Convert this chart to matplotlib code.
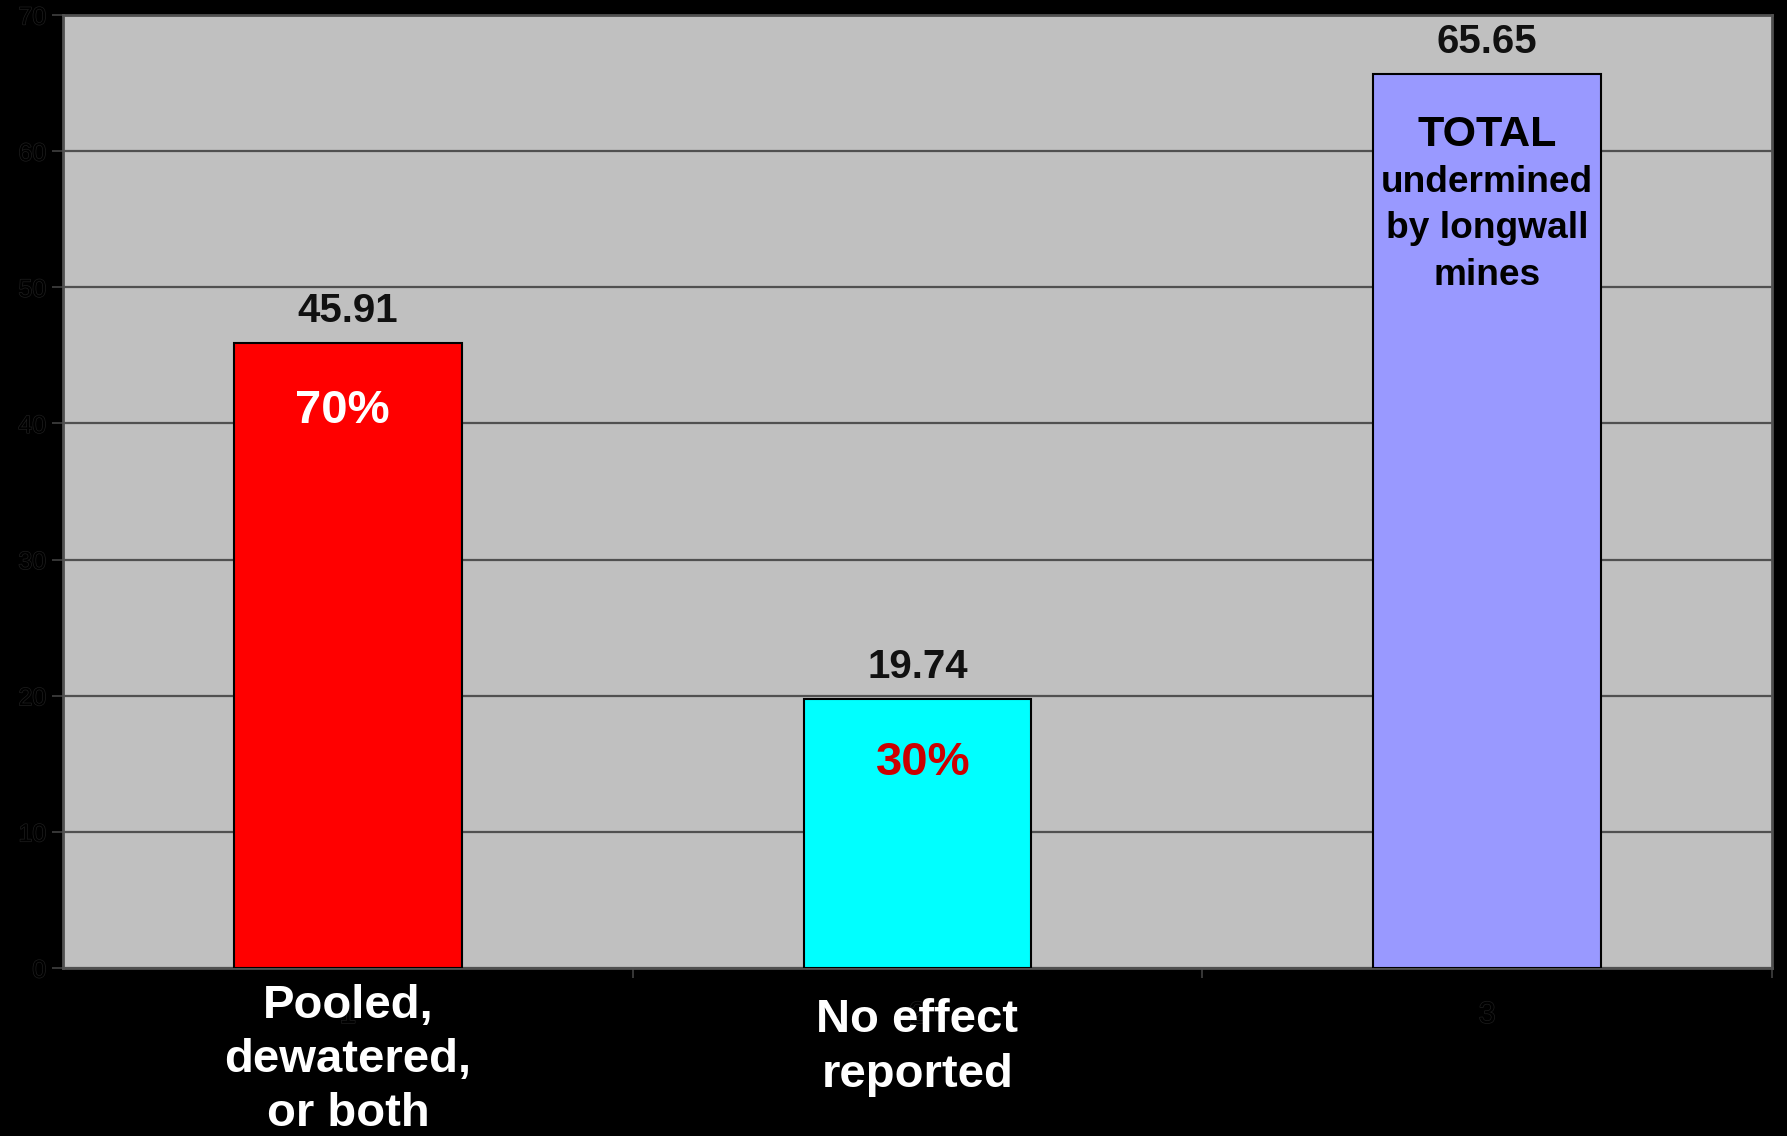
import matplotlib
matplotlib.use("Agg")
import matplotlib.pyplot as plt
import matplotlib.patheffects as pe

# Data
positions = [1, 2, 3]
values = [45.91, 19.74, 65.65]
bar_colors = ["#FF0000", "#00FFFF", "#9999FF"]
percent_labels = ["70%", "30%"]
percent_colors = ["white", "#CC0000"]
category_labels = ["Pooled,\ndewatered,\nor both", "No effect\nreported"]
y_ticks = [0, 10, 20, 30, 40, 50, 60, 70]

W, H = 1787, 1136
fig = plt.figure(figsize=(W / 100, H / 100), dpi=100, facecolor="black")
ax = fig.add_axes([63 / W, 1 - 968 / H, 1709 / W, 953 / H])
ax.set_facecolor("#C0C0C0")

font = ["Liberation Sans", "DejaVu Sans"]

ax.set_axisbelow(True)
ax.yaxis.grid(True, color="#505050", linewidth=1.6)
bars = ax.bar(positions, values, width=0.4, color=bar_colors,
              edgecolor="black", linewidth=1.5, zorder=3)

ax.set_xlim(0.5, 3.5)
ax.set_ylim(0, 70)
ax.set_yticks(y_ticks)
ax.set_xticks(positions)
ax.set_xticks([1.5, 2.5, 3.5], minor=True)

outline = [pe.withStroke(linewidth=1.0, foreground="#1e1e1e")]
ax.tick_params(axis="y", length=8, width=1.2, color="#404040", labelsize=18,
               labelcolor="black", pad=4)
ax.tick_params(axis="x", which="major", length=0, labelsize=22,
               labelcolor="black", pad=23)
ax.tick_params(axis="x", which="minor", length=7, width=1.2, color="#404040")
for lab in ax.get_yticklabels() + ax.get_xticklabels():
    lab.set_fontfamily(font)
    lab.set_path_effects(outline)

for side in ["left", "bottom", "right", "top"]:
    ax.spines[side].set_color("#505050")
    ax.spines[side].set_linewidth(2)

# Value labels above the bars
for x, v in zip(positions, values):
    ax.annotate(f"{v:.2f}", xy=(x, v), xytext=(0, 23.3), textcoords="offset points",
                ha="center", va="center", fontsize=29, fontweight="bold",
                color="#111111", family=font, zorder=5)

# Share percentages inside the first two bars
for x, v, txt, col, dy in zip(positions[:2], values[:2], percent_labels,
                              percent_colors, [-49, -46]):
    ax.annotate(txt, xy=(x, v), xytext=(-4 if x == 1 else 4, dy),
                textcoords="offset points", ha="center", va="center",
                fontsize=34, fontweight="bold", color=col, family=font, zorder=5)

# Caption inside the total bar
ax.text(3, 61.2, "TOTAL", ha="center", va="center", fontsize=31,
        fontweight="bold", color="black", family=font, zorder=5)
ax.text(3, 54.3, "undermined\nby longwall\nmines", ha="center", va="center",
        fontsize=26.7, fontweight="bold", color="black", family=font,
        linespacing=1.42, zorder=5)

# Category names under the axis
ax.text(1, -0.0965, category_labels[0], transform=ax.get_xaxis_transform(),
        ha="center", va="center", fontsize=34, fontweight="bold",
        color="white", family=font, linespacing=1.3, clip_on=False, zorder=6)
ax.text(2, -0.0834, category_labels[1], transform=ax.get_xaxis_transform(),
        ha="center", va="center", fontsize=34, fontweight="bold",
        color="white", family=font, linespacing=1.3, clip_on=False, zorder=6)

fig.savefig("out.png", dpi=100, facecolor="black")
